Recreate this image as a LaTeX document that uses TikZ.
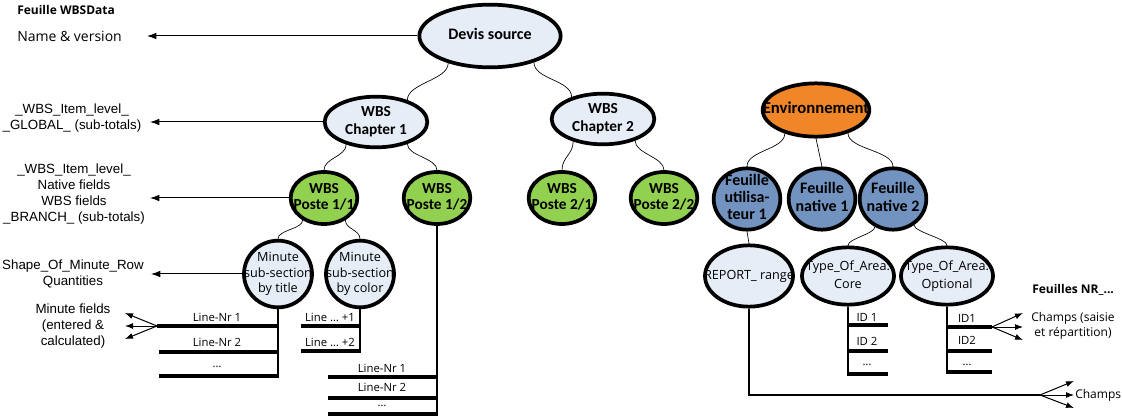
\documentclass[tikz,border=0pt]{standalone}
\usepackage{fontspec}
\usetikzlibrary{shapes.geometric,arrows.meta}
\newfontfamily\calibrifont{Carlito}
\newfontfamily\arialfont{Liberation Sans}
\newfontfamily\segoefont{Open Sans}
\definecolor{devisfill}{RGB}{230,237,247}
\definecolor{postefill}{RGB}{146,208,80}
\definecolor{envfill}{RGB}{240,134,40}
\definecolor{feuillefill}{RGB}{114,147,192}
\newcommand\nodetext[1]{\makebox[0pt]{\raisebox{\dimexpr.5\depth-.5\height\relax}[0pt][0pt]{\begin{tabular}[b]{@{}c@{}}#1\end{tabular}}}}
\def\curvelink(#1)(#2)#3{\draw[link] (#1) .. controls +(0,#3) and +(0,-#3) .. (#2);}
\tikzset{
  link/.style={line width=0.5pt},
  pointer/.style={line width=0.75pt, -{Latex[length=7pt,width=5pt]}},
  fanpointer/.style={line width=0.75pt, -{Latex[length=6pt,width=4.5pt]}},
  bar/.style={line width=2.6pt},
  stem/.style={line width=1.1pt},
  treenode/.style={ellipse, draw, line width=2.8pt, inner sep=0pt},
  topnode/.style={treenode, font=\calibrifont\bfseries\fontsize{12}{14}\selectfont},
  chapnode/.style={treenode, fill=devisfill, minimum width=77pt, minimum height=38pt, font=\calibrifont\bfseries\fontsize{11.5}{13.5}\selectfont},
  postenode/.style={treenode, fill=postefill, minimum width=50pt, minimum height=39pt, font=\calibrifont\bfseries\fontsize{11.5}{12}\selectfont},
  feuillenode/.style={treenode, fill=feuillefill, minimum width=50pt, minimum height=46pt, font=\calibrifont\bfseries\fontsize{12}{13}\selectfont},
  minutenode/.style={treenode, fill=devisfill, minimum width=51pt, minimum height=50pt, font=\segoefont\fontsize{9.5}{11.6}\selectfont},
  areanode/.style={treenode, fill=devisfill, minimum width=69pt, minimum height=43pt, font=\segoefont\fontsize{9.5}{13.5}\selectfont},
  annot/.style={inner sep=0pt, align=center, font=\arialfont\fontsize{10}{12}\selectfont},
  sheettitle/.style={inner sep=0pt, anchor=west, font=\segoefont\bfseries\fontsize{9}{11}\selectfont},
  sheettext/.style={inner sep=0pt, align=center, font=\segoefont\fontsize{9}{11}\selectfont},
  linelabel/.style={inner sep=0pt, font=\segoefont\fontsize{8.5}{10}\selectfont},
}

\begin{document}
\begin{tikzpicture}[x=0.75pt, y=-0.75pt]
		%%%%% START %%%%%
		\useasboundingbox (0,0) rectangle (1122,417);
		
		\node[topnode, fill=devisfill, minimum width=106pt, minimum height=47pt] (devis) at (490,36) {\nodetext{Devis source}};
		\node[chapnode] (chap1) at (376,122) {\nodetext{WBS\\Chapter 1}};
		\node[chapnode] (chap2) at (603,119) {\nodetext{WBS\\Chapter 2}};
		
		\node[postenode] (poste11) at (324,198) {\nodetext{WBS\\Poste 1/1}};
		\node[postenode] (poste12) at (437,198) {\nodetext{WBS\\Poste 1/2}};
		\node[postenode] (poste21) at (562,198) {\nodetext{WBS\\Poste 2/1}};
		\node[postenode] (poste22) at (664,198) {\nodetext{WBS\\Poste 2/2}};
		
		\node[minutenode] (minute1) at (278,274) {\nodetext{Minute\\sub-section\\by title}};
		\node[minutenode] (minute2) at (360,274) {\nodetext{Minute\\sub-section\\by color}};
		
		\node[topnode, fill=envfill, minimum width=80pt, minimum height=40pt, font=\calibrifont\bfseries\fontsize{12.5}{14}\selectfont] (env) at (816,110) {\nodetext{Environnement}};
		\node[feuillenode] (feuille1) at (747,199) {\nodetext{Feuille\\utilisa-\\teur 1}};
		\node[feuillenode] (feuille2) at (822,199) {\nodetext{Feuille\\native 1}};
		\node[feuillenode] (feuille3) at (893,199) {\nodetext{Feuille\\native 2}};
		
		\node[areanode, minimum width=66pt, minimum height=46pt] (report) at (749,276) {\nodetext{REPORT\_ range}};
		\node[areanode] (core) at (848,276) {\nodetext{Type\_Of\_Area:\\Core}};
		\node[areanode] (optional) at (947,276) {\nodetext{Type\_Of\_Area:\\Optional}};
		
		\curvelink(devis.-147)(chap1.35){17}
		\curvelink(devis.-31)(chap2.145){17}
		\curvelink(chap1.-143)(poste11.north){12}
		\curvelink(chap1.-35)(poste12.north){12}
		\curvelink(chap2.-143)(poste21.north){13}
		\curvelink(chap2.-34)(poste22.north){13}
		\curvelink(poste11.-134)(minute1.north){9}
		\curvelink(poste11.-46)(minute2.north){9}
		\curvelink(env.-143)(feuille1.north){16}
		\draw[link] (env.south) -- (feuille2.north);
		\curvelink(env.-36)(feuille3.north){16}
		\draw[link] (feuille1.south) -- (report.north);
		\curvelink(feuille3.-123)(core.north){7}
		\curvelink(feuille3.-51)(optional.north){7}
		
		\node[sheettitle] (wbsdata) at (17,10) {Feuille WBSData};
		\node[inner sep=0pt, anchor=west, font=\segoefont\fontsize{10.5}{12}\selectfont] (namever) at (17,36) {Name \& version};
		\node[annot] (globaltxt) at (72,118) {\_WBS\_Item\_level\_\\\_GLOBAL\_ (sub-totals)};
		\node[annot] (branchtxt) at (74,194) {\_WBS\_Item\_level\_\\Native fields\\WBS fields\\\_BRANCH\_ (sub-totals)};
		\node[annot] (shapetxt) at (73,274) {Shape\_Of\_Minute\_Row\\Quantities};
		\node[annot] (fieldstxt) at (73,326) {Minute fields\\(entered \&\\calculated)};
		
		\coordinate (tipname) at (147,36);
		\coordinate (tipglobal) at (150,122);
		\coordinate (tipbranch) at (150,198);
		\coordinate (tipshape) at (151,274);
		\draw[pointer] (devis.west) -- (tipname);
		\draw[pointer] (chap1.west) -- (tipglobal);
		\draw[pointer] (poste11.west) -- (tipbranch);
		\draw[pointer] (minute1.west) -- (tipshape);
		
		\coordinate (fieldsrc) at (157,326);
		\foreach \ty [count=\i] in {313,326,339} {
			\coordinate (fieldtip\i) at (125,\ty);
			\draw[fanpointer] (fieldsrc) -- (fieldtip\i);
		}
		
		% rows under the minute sub-sections
		\draw[stem] (minute1.south) -- (278,377);
		\draw[bar] (157,326) -- (278.7,326);
		\draw[bar] (159,352) -- (278.7,352);
		\draw[bar] (159,376) -- (278.7,376);
		\node[linelabel] (row11) at (217,317) {Line-Nr 1};
		\node[linelabel] (row12) at (217,342) {Line-Nr 2};
		\node[linelabel] (row13) at (217,367) {\dots};
		
		\draw[stem] (minute2.south) -- (360,351.5);
		\draw[bar] (301,326) -- (360.7,326);
		\draw[bar] (301,351) -- (360.7,351);
		\node[linelabel] (row21) at (330,317) {Line \dots{} +1};
		\node[linelabel] (row22) at (330,342) {Line \dots{} +2};
		
		\draw[stem] (poste12.south) -- (437,415);
		\draw[bar] (328,377) -- (437.7,377);
		\draw[bar] (328,398) -- (437.7,398);
		\draw[bar] (328,414) -- (437.7,414);
		\node[linelabel] (row31) at (382,368) {Line-Nr 1};
		\node[linelabel] (row32) at (382,387) {Line-Nr 2};
		\node[linelabel] (row33) at (382,406) {\dots};
		
		% rows under the areas
		\draw[stem] (core.south) -- (848,375);
		\draw[bar] (847.3,325) -- (888,325);
		\draw[bar] (847.3,351) -- (888,351);
		\draw[bar] (847.3,374) -- (888,374);
		\node[linelabel] (id11) at (867,317) {ID 1};
		\node[linelabel] (id12) at (867,341) {ID 2};
		\node[linelabel] (id13) at (867,365) {\dots};
		
		\draw[stem] (optional.south) -- (947,372);
		\draw[bar] (946.3,327) -- (992,327);
		\draw[bar] (946.3,351) -- (992,351);
		\draw[bar] (946.3,372) -- (992,372);
		\node[linelabel] (id21) at (967,318) {ID1};
		\node[linelabel] (id22) at (967,340) {ID2};
		\node[linelabel] (id23) at (967,365) {\dots};
		
		\node[sheettitle] (nrtitle) at (1032,290) {Feuilles NR\_...};
		\node[sheettext] (nrtxt) at (1073,326) {Champs (saisie\\et répartition)};
		\coordinate (nrsrc) at (992,327);
		\foreach \ty [count=\i] in {313,327,340} {
			\coordinate (nrtip\i) at (1023,\ty);
			\draw[fanpointer] (nrsrc) -- (nrtip\i);
		}
		
		\node[sheettext, anchor=west] (champs) at (1075,395) {Champs};
		\coordinate (champsrc) at (1040,395);
		\draw[link, line width=0.8pt] (report.south) |- (champsrc);
		\foreach \ty [count=\i] in {381,395,408} {
			\coordinate (champtip\i) at (1074,\ty);
			\draw[fanpointer] (champsrc) -- (champtip\i);
		}
		
		%%%%% END %%%%%
	\end{tikzpicture}
\end{document}
